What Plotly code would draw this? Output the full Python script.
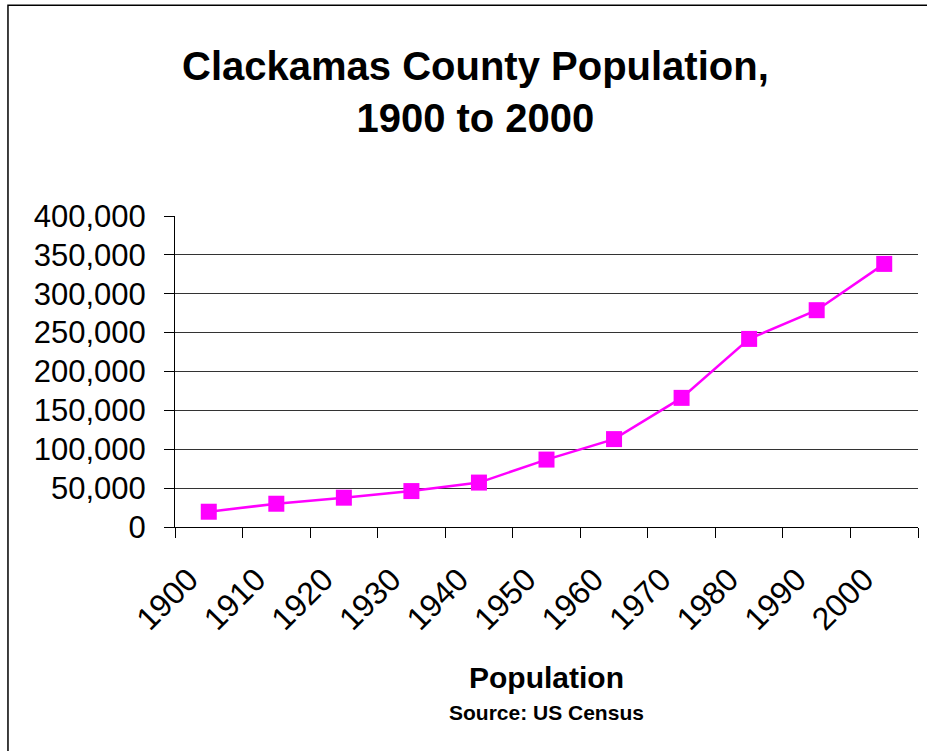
import plotly.graph_objects as go

years = ["1900", "1910", "1920", "1930", "1940", "1950",
         "1960", "1970", "1980", "1990", "2000"]
population = [19658, 29931, 37698, 46205, 57130, 86716,
              113038, 166088, 241919, 278850, 338391]
y_ticks = [0, 50000, 100000, 150000, 200000, 250000, 300000, 350000, 400000]

FONT = "Liberation Sans, Arial, sans-serif"

fig = go.Figure()
fig.add_trace(
    go.Scatter(
        x=years, y=population, mode="lines+markers",
        line={"color": "#ff00ff", "width": 2.5},
        marker={"symbol": "square", "size": 16, "color": "#ff00ff"},
        showlegend=False,
    )
)

fig.update_layout(
    width=927, height=751,
    margin={"l": 175, "r": 9, "t": 216, "b": 224},
    paper_bgcolor="white", plot_bgcolor="white",
    font={"family": FONT, "color": "black"},
    annotations=[
        dict(text="<b>Clackamas County Population,<br>1900 to 2000</b>",
             xref="paper", yref="paper", x=0.404, y=1.399,
             xanchor="center", yanchor="middle", showarrow=False,
             font={"size": 40, "family": FONT}),
        dict(text="<b>Population</b>", xref="paper", yref="paper",
             x=0.5, y=-0.4855, xanchor="center", yanchor="middle",
             showarrow=False, font={"size": 30, "family": FONT}),
        dict(text="<b>Source: US Census</b>", xref="paper", yref="paper",
             x=0.5, y=-0.595, xanchor="center", yanchor="middle",
             showarrow=False, font={"size": 21, "family": FONT}),
    ],
    shapes=[
        dict(type="rect", xref="paper", yref="paper",
             x0=-0.2248, y0=-2, x1=2, y1=1.678,
             line={"color": "black", "width": 1.5}, fillcolor="rgba(0,0,0,0)"),
    ],
)

fig.update_xaxes(
    type="category", range=[-0.5, len(years) - 0.5],
    tickson="boundaries", ticks="outside", ticklen=10,
    tickcolor="black", showline=True, linecolor="black", linewidth=1,
    showgrid=False, tickangle=-45, tickfont={"size": 32},
    ticklabelshift=-20, ticklabelstandoff=20, automargin=False,
)
fig.update_yaxes(
    range=[0, 400000], tickvals=y_ticks, tickformat=",",
    ticks="outside", ticklen=10, tickcolor="black",
    showline=True, linecolor="black", linewidth=1,
    showgrid=True, gridcolor="#333", gridwidth=1, zeroline=False,
    tickfont={"size": 31}, ticklabelstandoff=12, automargin=False,
)

fig.write_html(
    "out.html",
    config={"displayModeBar": False},
    post_script="document.body.style.margin='0';",
)
